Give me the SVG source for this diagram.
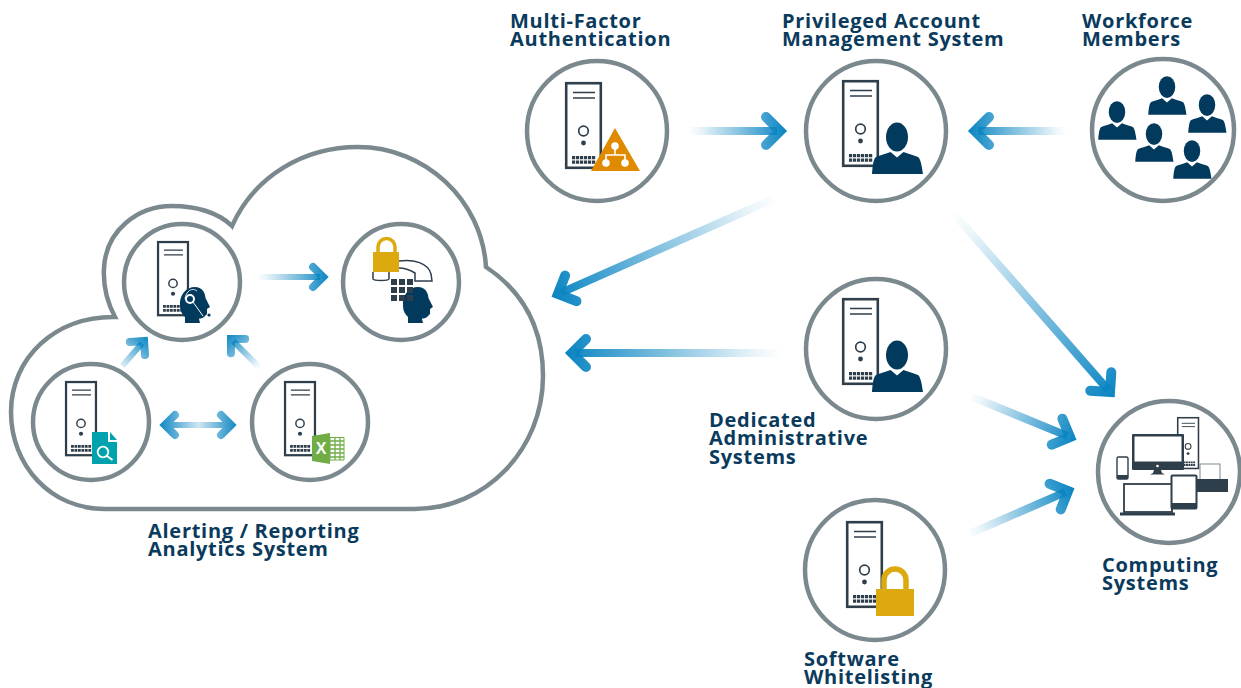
<svg xmlns="http://www.w3.org/2000/svg" xmlns:xlink="http://www.w3.org/1999/xlink" width="1241" height="688" viewBox="0 0 1241 688">
<style>
.ring{fill:#fff;stroke:#7b898f;stroke-width:4.5}
.cloud{fill:#fff;stroke:#7b898f;stroke-width:4.5;stroke-linejoin:miter}
.lbl{font-family:"Open Sans","Liberation Sans",sans-serif;font-weight:700;font-size:20px;letter-spacing:.72px;fill:#0a3a5c}
.shaft{fill:none;stroke-width:8}
.head{fill:none;stroke-width:10;stroke-linecap:round;stroke-linejoin:miter}
.sshaft{fill:none;stroke-width:6}
.shead{fill:none;stroke-width:8;stroke-linecap:round;stroke-linejoin:miter}
.navy{fill:#023a5e}
.gold{fill:#dca90f}
.dark{fill:#2f3e4b}
</style>
<defs>
<linearGradient id="gf"><stop offset="0" stop-color="#0a85c2" stop-opacity="0"/><stop offset=".12" stop-color="#0a85c2" stop-opacity=".08"/><stop offset="1" stop-color="#0a85c2"/></linearGradient>
<linearGradient id="g96" xlink:href="#gf" gradientUnits="userSpaceOnUse" x1="-92" x2="6" y1="0" y2="0"/>
<linearGradient id="g240" xlink:href="#gf" gradientUnits="userSpaceOnUse" x1="-240" x2="6" y1="0" y2="0"/>
<linearGradient id="g214" xlink:href="#gf" gradientUnits="userSpaceOnUse" x1="-210" x2="6" y1="0" y2="0"/>
<linearGradient id="g113" xlink:href="#gf" gradientUnits="userSpaceOnUse" x1="-110" x2="6" y1="0" y2="0"/>
<linearGradient id="g70" xlink:href="#gf" gradientUnits="userSpaceOnUse" x1="-66" x2="6" y1="0" y2="0"/>
<linearGradient id="g40" xlink:href="#gf" gradientUnits="userSpaceOnUse" x1="-42" x2="6" y1="0" y2="0"/>
<linearGradient id="gd" gradientUnits="userSpaceOnUse" x1="159" x2="238" y1="0" y2="0"><stop offset="0" stop-color="#0a85c2"/><stop offset=".5" stop-color="#cfe6f3"/><stop offset="1" stop-color="#0a85c2"/></linearGradient>
<g id="server">
<rect x="1.200" y="1.200" width="34.600" height="84.600" fill="#fff" stroke="#2f3e4b" stroke-width="2.600"/>
<path d="M8 10.500H30M8 16H30" fill="none" stroke="#2f3e4b" stroke-width="1.500"/>
<circle cx="18.500" cy="49" r="4.800" fill="#fff" stroke="#2f3e4b" stroke-width="1.700"/>
<circle cx="18.500" cy="61" r="2.400" fill="#2f3e4b"/>
<path d="M7 74h3.200v3.200H7zM11 74h3.200v3.200h-3.200zM15 74h3.200v3.200h-3.200zM19 74h3.200v3.200h-3.200zM23 74h3.200v3.200h-3.200zM27 74h3.200v3.200h-3.200zM7 78.500h3.200v3.200H7zM11 78.500h3.200v3.200h-3.200zM15 78.500h3.200v3.200h-3.200zM19 78.500h3.200v3.200h-3.200zM23 78.500h3.200v3.200h-3.200zM27 78.500h3.200v3.200h-3.200z" fill="#2f3e4b"/>
</g>
<g id="person">
<ellipse cx="0" cy="0" rx="11" ry="14.500"/>
<path d="M-6.500 15L0 20.500L6.500 15C11 17 17 18 21 20C24 22 25 31 26 37H-25C-24.500 31 -24 22 -21 20C-17 18 -11 17 -6.500 15Z"/>
</g>
<path id="profile" d="M403 306C402 295 409 287 418 287C425 287 428 292 428.500 298L433 307L430 309L430 314L427 317C425 319 422 318 422 319L423 323H408L408 317C405 314 403 311 403 306Z"/>
</defs>

<g id="cloud"><path class="cloud" d="M105 509C50 509 11 465 11 412C11 358 55 316 115 317C106 300 103 285 104 268C106 230 138 206 172 206C195 206 218 212 232 226C255 175 305 147 358 147C425 147 482 200 486 267C525 293 543 330 543 376C543 450 485 509 415 509Z"/></g>

<g id="connectors">
<g transform="translate(780 131)"><path class="shaft" stroke="url(#g96)" d="M-90 0H-3"/><path class="head" stroke="url(#g96)" d="M-14 -14L0 0L-14 14"/></g>
<g transform="translate(975 131) rotate(180)"><path class="shaft" stroke="url(#g96)" d="M-90 0H-3"/><path class="head" stroke="url(#g96)" d="M-14 -14L0 0L-14 14"/></g>
<g transform="translate(558 294) rotate(156.200)"><path class="shaft" stroke="url(#g240)" d="M-237 0H-3"/><path class="head" stroke="url(#g240)" d="M-14 -14L0 0L-14 14"/></g>
<g transform="translate(572 353) rotate(180)"><path class="shaft" stroke="url(#g214)" d="M-208 0H-3"/><path class="head" stroke="url(#g214)" d="M-14 -14L0 0L-14 14"/></g>
<g transform="translate(1110 392) rotate(48.800)"><path class="shaft" stroke="url(#g240)" d="M-237 0H-3"/><path class="head" stroke="url(#g240)" d="M-14 -14L0 0L-14 14"/></g>
<g transform="translate(1070 437) rotate(22.300)"><path class="shaft" stroke="url(#g113)" d="M-107 0H-3"/><path class="head" stroke="url(#g113)" d="M-14 -14L0 0L-14 14"/></g>
<g transform="translate(1068 491) rotate(-23.500)"><path class="shaft" stroke="url(#g113)" d="M-107 0H-3"/><path class="head" stroke="url(#g113)" d="M-14 -14L0 0L-14 14"/></g>
<g transform="translate(323 277)"><path class="sshaft" stroke="url(#g70)" d="M-66 0H-3"/><path class="shead" stroke="url(#g70)" d="M-10 -10L0 0L-10 10"/></g>
<g transform="translate(144 341) rotate(-49)"><path class="sshaft" stroke="url(#g40)" d="M-33 0H-3"/><path class="shead" stroke="url(#g40)" d="M-10 -10L0 0L-10 10"/></g>
<g transform="translate(231 339) rotate(-135)"><path class="sshaft" stroke="url(#g40)" d="M-42 0H-3"/><path class="shead" stroke="url(#g40)" d="M-10 -10L0 0L-10 10"/></g>
<g><path class="sshaft" stroke="url(#gd)" d="M168 425H228"/><path class="shead" stroke="url(#gd)" d="M175 415L165 425L175 435M221 415L231 425L221 435"/></g>
</g>

<g id="node-mfa">
<circle class="ring" cx="597" cy="131" r="70"/>
<use xlink:href="#server" x="565" y="82"/>
<path d="M615 128L640 171H591Z" fill="#e08a00"/>
<path d="M615 146V155M606 163V155H625V163" fill="none" stroke="#fff" stroke-width="1.600"/>
<circle cx="615" cy="146" r="3.800" fill="#fff"/><circle cx="606" cy="163" r="3.800" fill="#fff"/><circle cx="625" cy="163" r="3.800" fill="#fff"/>
<text class="lbl" x="510" y="28">Multi-Factor</text><text class="lbl" x="510" y="46">Authentication</text>
</g>

<g id="node-pam">
<circle class="ring" cx="876" cy="131" r="70"/>
<use xlink:href="#server" x="842" y="80"/>
<use xlink:href="#person" class="navy" x="897" y="137"/>
<text class="lbl" x="782" y="28">Privileged Account</text><text class="lbl" x="782" y="46">Management System</text>
</g>

<g id="node-workforce" class="navy">
<circle class="ring" cx="1163" cy="130" r="71"/>
<use xlink:href="#person" transform="translate(1167 87) scale(.75)"/>
<use xlink:href="#person" transform="translate(1117 112) scale(.75)"/>
<use xlink:href="#person" transform="translate(1207 105) scale(.75)"/>
<use xlink:href="#person" transform="translate(1154 134) scale(.75)"/>
<use xlink:href="#person" transform="translate(1192 151) scale(.75)"/>
<text class="lbl" x="1082" y="28">Workforce</text><text class="lbl" x="1082" y="46">Members</text>
</g>

<g id="node-dedicated">
<circle class="ring" cx="876" cy="349" r="70"/>
<use xlink:href="#server" x="842" y="298"/>
<use xlink:href="#person" class="navy" x="897" y="355"/>
<text class="lbl" x="709" y="427">Dedicated</text><text class="lbl" x="709" y="445">Administrative</text><text class="lbl" x="709" y="464">Systems</text>
</g>

<g id="node-whitelisting">
<circle class="ring" cx="875" cy="570" r="70"/>
<use xlink:href="#server" x="846" y="521"/>
<path d="M884 592V580A11 11 0 0 1 906 580V592" fill="none" stroke="#dca90f" stroke-width="5.500"/>
<rect class="gold" x="876" y="589" width="38" height="27"/>
<text class="lbl" x="804" y="666">Software</text><text class="lbl" x="804" y="684">Whitelisting</text>
</g>

<g id="node-computing">
<circle class="ring" cx="1169" cy="472" r="71"/>
<use xlink:href="#server" transform="translate(1177 417) scale(.6)"/>
<rect class="dark" x="1132" y="434" width="52" height="36" rx="1"/>
<rect x="1134.500" y="436.500" width="47" height="25" fill="#fff"/>
<circle cx="1157.500" cy="466" r="1.300" fill="#fff"/>
<path class="dark" d="M1154 470H1161L1162 473L1165 474.500H1150L1153 473Z"/>
<rect x="1117" y="457" width="11" height="22" rx="1.500" fill="#fff" stroke="#2f3e4b" stroke-width="1.400"/><rect class="dark" x="1117" y="475" width="11" height="4"/>
<rect x="1124" y="484" width="48" height="28" fill="#fff" stroke="#2f3e4b" stroke-width="1.800"/>
<rect class="dark" x="1120" y="512.500" width="55" height="3"/>
<rect x="1200" y="464" width="20" height="18" fill="#fff" stroke="#7b898f" stroke-width="1"/>
<rect class="dark" x="1190" y="479" width="38" height="13"/>
<rect x="1171.500" y="475.500" width="25" height="33" rx="1" fill="#fff" stroke="#2f3e4b" stroke-width="2"/>
<rect class="dark" x="1171.500" y="503" width="25" height="5.500"/>
<text class="lbl" x="1102" y="572">Computing</text><text class="lbl" x="1102" y="590">Systems</text>
</g>

<g id="node-agent">
<circle class="ring" cx="182" cy="282" r="58"/>
<use xlink:href="#server" transform="translate(157 241) scale(.865)"/>
<use xlink:href="#profile" class="navy" transform="translate(-223 0)"/>
<path d="M185 299A8 11 0 0 1 197 291" fill="none" stroke="#fff" stroke-width=".8"/>
<circle cx="190" cy="299" r="4" fill="#023a5e" stroke="#fff" stroke-width="2"/>
<path d="M193 302L203 316" fill="none" stroke="#fff" stroke-width="1"/>
<circle cx="209" cy="315" r="1.600" fill="#023a5e"/>
</g>

<g id="node-secure-phone">
<circle class="ring" cx="401" cy="282" r="58"/>
<path d="M378 254V247A8.500 8.500 0 0 1 395 247V254" fill="none" stroke="#dca90f" stroke-width="3.500"/>
<path d="M399 261C414 259 428 263 431 274L432 281H415L415 273C410 270 404 268 399 268M373 272V279C374 281 388 281 389 279V272" fill="none" stroke="#2f3e4b" stroke-width="1.500"/>
<rect class="gold" x="373" y="252" width="26" height="20"/>
<use xlink:href="#profile" class="navy"/>
<path class="dark" d="M391 279h6v6h-6zM399 279h6v6h-6zM407 279h6v6h-6zM391 287h6v6h-6zM399 287h6v6h-6zM407 287h6v6h-6zM391 295h6v6h-6zM399 295h6v6h-6zM407 295h6v6h-6z"/>
</g>

<g id="node-search">
<circle class="ring" cx="91" cy="422" r="58"/>
<use xlink:href="#server" transform="translate(65 381) scale(.865)"/>
<path d="M92 432H108V442H117V464H92Z" fill="#00a3ad"/>
<path d="M110 432L117 440H110Z" fill="#00a3ad"/>
<circle cx="103" cy="452" r="5.300" fill="none" stroke="#fff" stroke-width="1.800"/>
<path d="M107 456L112.500 460" stroke="#fff" stroke-width="2" fill="none"/>
</g>

<g id="node-excel">
<circle class="ring" cx="310" cy="422" r="58"/>
<use xlink:href="#server" transform="translate(284 381) scale(.865)"/>
<path d="M330 437.500H344V460H330Z" fill="#fff" stroke="#70ad47" stroke-width="1"/>
<path d="M330 441H344M330 445H344M330 449H344M330 453H344M330 457H344M335 438V460M340 438V460" fill="none" stroke="#70ad47" stroke-width="1.300"/>
<path d="M312 436L330 433V464L312 461Z" fill="#70ad47"/>
<text x="321" y="454" text-anchor="middle" font-family="'Liberation Sans',sans-serif" font-weight="700" font-size="16" fill="#fff">X</text>
</g>

<g id="label-alerting"><text class="lbl" x="148" y="538">Alerting / Reporting</text><text class="lbl" x="148" y="556">Analytics System</text></g>
</svg>
